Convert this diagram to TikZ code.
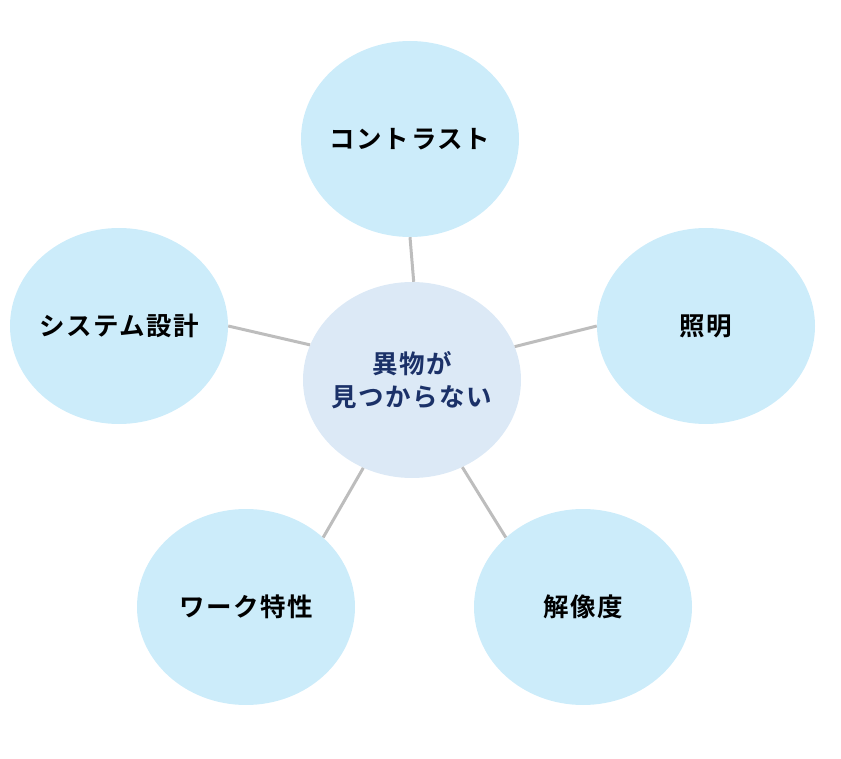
\documentclass[tikz,border=0pt]{standalone}
\usepackage{fontspec}
\setmainfont{Noto Sans CJK JP}[BoldFont={* Bold}]
\newfontfamily\jpb{Noto Sans CJK JP Bold}[LetterSpace=6]
\usetikzlibrary{shapes.geometric}
\definecolor{outerfill}{HTML}{CCECFA}
\definecolor{centerfill}{HTML}{DCE9F6}
\definecolor{navy}{HTML}{1B3168}
\definecolor{linkgray}{HTML}{BDBDBD}
\tikzset{
  bubble/.style={ellipse, fill=outerfill, draw=none, minimum width=218pt, minimum height=196pt, inner sep=-30pt,
    font=\jpb\fontsize{25.5pt}{30pt}\selectfont, text=black},
  hub/.style={ellipse, fill=centerfill, draw=none, minimum width=218pt, minimum height=196pt, inner sep=-30pt,
    font=\jpb\fontsize{25.5pt}{33pt}\selectfont, text=navy, align=center},
  link/.style={draw=linkgray, line width=3pt}
}
\begin{document}
\begin{tikzpicture}[x=1pt,y=-1pt]
\useasboundingbox (0,0) rectangle (841,759);
\node[hub] (c) at (412,380) {異物が\\見つからない};
\node[bubble] (t) at (410,139) {コントラスト};
\node[bubble] (r) at (706,326) {照明};
\node[bubble] (l) at (119,326) {システム設計};
\node[bubble] (bl) at (246,607) {ワーク特性};
\node[bubble] (br) at (583,607) {解像度};
\draw[link] (c.89) -- (t.270);
\draw[link] (c.18) -- (r.180);
\draw[link] (c.161) -- (l.0);
\draw[link] (c.241) -- (bl.42);
\draw[link] (c.300) -- (br.138);
\end{tikzpicture}
\end{document}
